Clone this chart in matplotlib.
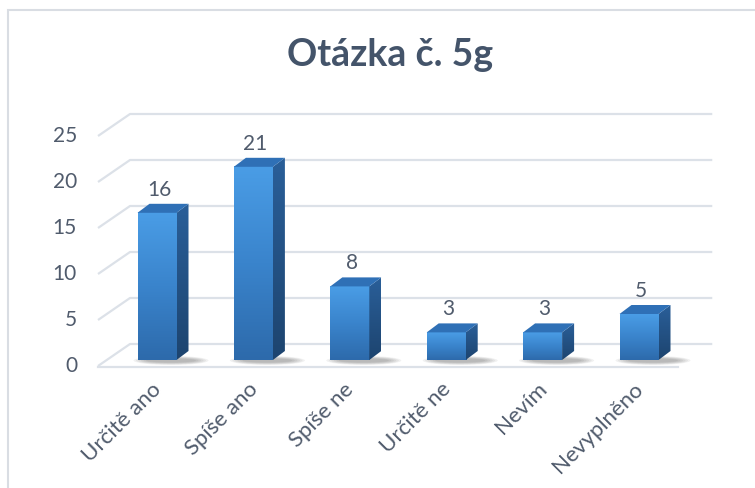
import numpy as np
import matplotlib
matplotlib.use("Agg")
import matplotlib.pyplot as plt
from matplotlib.colors import LinearSegmentedColormap
from matplotlib.patches import Polygon, Rectangle, Ellipse

# data
categories = ["Určitě ano", "Spíše ano", "Spíše ne", "Určitě ne", "Nevím", "Nevyplněno"]
values = [16, 21, 8, 3, 3, 5]
yticks = [0, 5, 10, 15, 20, 25]
title = "Otázka č. 5g"

plt.rcParams["font.family"] = ["Lato", "DejaVu Sans"]
txt_color = "#505b6c"
grid_color = "#dce1e8"

W, H = 755, 488
fig = plt.figure(figsize=(W / 100, H / 100), dpi=100)
# plot area: bar front plane
ax = fig.add_axes([108.8 / W, (H - 360) / H, 578.4 / W, 230 / H])
ax.set_xlim(-0.5, len(categories) - 0.5)
ax.set_ylim(0, 25)
ax.axis("off")

sx = 578.4 / len(categories)   # px per category
sy = 230 / 25                  # px per unit


def ux(p):
    return p / sx


def uy(p):
    return p / sy


# back wall + side wall gridlines
back_up = uy(16)
wall_x0, wall_x1 = -0.28, 5.76
diag_dx, diag_dy = ux(32), uy(22)
for v in yticks:
    yb = v + back_up
    ax.plot([wall_x0 - diag_dx, wall_x0, wall_x1], [yb - diag_dy, yb, yb],
            color=grid_color, lw=1.6, clip_on=False, zorder=1, solid_capstyle="butt")
    ax.text(wall_x0 - diag_dx - ux(21), yb - diag_dy, str(v), ha="right", va="center",
            fontsize=15, color=txt_color)

# floor front edge
ax.plot([wall_x0 - diag_dx, 5.405], [-uy(7), -uy(7)], color=grid_color, lw=1.6,
        clip_on=False, zorder=1)

front_cmap = LinearSegmentedColormap.from_list("front", ["#2d6aab", "#3a84cc", "#4a9de6"])
side_cmap = LinearSegmentedColormap.from_list("side", ["#1d446f", "#2a5f99"])
grad = np.linspace(0, 1, 256).reshape(-1, 1)

bw = 39 / sx / 2
ddx, ddy = ux(12), uy(9)
for i, (cat, v) in enumerate(zip(categories, values)):
    x0, x1 = i - bw, i + bw
    # soft shadow on the floor
    for k in range(6):
        ax.add_patch(Ellipse((i + ux(14), uy(-0.5)), 2 * bw + ux(36 - 5 * k), uy(9 - k),
                             color="#404040", alpha=0.07, lw=0, zorder=2, clip_on=False))
    # front face
    ax.imshow(grad, cmap=front_cmap, extent=[x0, x1, 0, v], origin="lower",
              aspect="auto", zorder=3, interpolation="bilinear")
    # side face
    side = Polygon([(x1, 0), (x1 + ddx, ddy), (x1 + ddx, v + ddy), (x1, v)],
                   closed=True, fc="none", ec="none", zorder=3)
    ax.add_patch(side)
    im = ax.imshow(grad, cmap=side_cmap, extent=[x1, x1 + ddx, 0, v + ddy], origin="lower",
                   aspect="auto", zorder=3, interpolation="bilinear")
    im.set_clip_path(side)
    # top face
    ax.add_patch(Polygon([(x0, v), (x1, v), (x1 + ddx, v + ddy), (x0 + ddx, v + ddy)],
                         closed=True, fc="#2f70b6", ec="none", zorder=3))
    # value label
    ax.text(i + ux(2), v + uy(23), str(v), ha="center", va="center", fontsize=15,
            color=txt_color, zorder=4)
    # category label
    ax.text(i - ux(6), -uy(19), cat, ha="right", va="top", rotation=45,
            rotation_mode="anchor", fontsize=16, color=txt_color)

ax.set_xlim(-0.5, len(categories) - 0.5)
ax.set_ylim(0, 25)

fig.text(390 / W, 1 - 55 / H, title, ha="center", va="center", fontsize=27,
         fontweight="bold", color="#44546a")

# chart frame
fig.add_artist(Rectangle((8 / W, -0.1), 1.2, 1.1 - 10 / H, transform=fig.transFigure,
                         fill=False, ec="#d9dde3", lw=1.5))

fig.savefig("out.png", dpi=100)
